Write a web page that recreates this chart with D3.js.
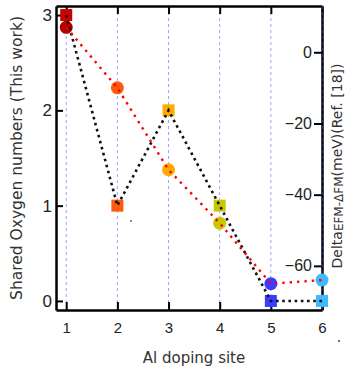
<!DOCTYPE html>
<html>
<head>
<meta charset="utf-8">
<script src="https://cdn.jsdelivr.net/npm/d3@7"></script>
<style>
  body { margin: 0; background: #fff; }
  svg { display: block; font-family: "DejaVu Sans", Verdana, sans-serif; }
  .axis path, .axis line { stroke: #000; }
</style>
</head>
<body>
<svg id="chart" width="351" height="369"></svg>
<script>
// data
const sites = [1, 2, 3, 4, 5, 6];
const sharedOxygen = [3, 1, 2, 1, 0, 0];
const deltaEnergy = [7, -10, -33, -48, -65, -64];
const pointColors = ["#c80000", "#ff5a0a", "#ffaa00", "#c8c800", "#3c3cff", "#3cbcff"];
const leftTicks = [0, 1, 2, 3];
const rightTicks = [0, -20, -40, -60];

const plotLeft = 56, plotRight = 322, plotTop = 6, plotBottom = 310;

const svg = d3.select("#chart");

const x = d3.scaleLinear().domain([0.8, 6]).range([plotLeft, plotRight]);
const yLeft = d3.scaleLinear().domain([-0.095, 3.095]).range([plotBottom, plotTop]);
const yRight = d3.scaleLinear().domain([-72.4, 13]).range([plotBottom, plotTop]);

// vertical dashed guides
svg.append("g")
  .selectAll("line")
  .data(sites)
  .enter()
  .append("line")
  .attr("x1", d => x(d)).attr("x2", d => x(d))
  .attr("y1", plotTop).attr("y2", plotBottom)
  .attr("stroke", "#a0a0ff")
  .attr("stroke-width", 1)
  .attr("stroke-dasharray", "3,3");

// frame axes
const bottomAxis = svg.append("g")
  .attr("class", "axis")
  .attr("transform", "translate(0," + plotBottom + ")")
  .call(d3.axisBottom(x).tickValues(sites).tickFormat(d3.format("d")).tickSize(-8).tickPadding(12).tickSizeOuter(0));

const topAxis = svg.append("g")
  .attr("class", "axis")
  .attr("transform", "translate(0," + plotTop + ")")
  .call(d3.axisTop(x).tickValues(sites).tickSize(-8).tickFormat("").tickSizeOuter(0));

const leftAxis = svg.append("g")
  .attr("class", "axis")
  .attr("transform", "translate(" + plotLeft + ",0)")
  .call(d3.axisLeft(yLeft).tickValues(leftTicks).tickFormat(d3.format("d")).tickSize(-7).tickPadding(4).tickSizeOuter(0));

const rightAxis = svg.append("g")
  .attr("class", "axis")
  .attr("transform", "translate(" + plotRight + ",0)")
  .call(d3.axisLeft(yRight).tickValues(rightTicks).tickFormat(d3.format("d")).tickSize(8).tickPadding(2).tickSizeOuter(0));

svg.selectAll(".axis path").attr("stroke-width", 2.5);
svg.selectAll(".axis line").attr("stroke-width", 2);
bottomAxis.selectAll("text").style("font-size", "15px").attr("fill", "#222");
leftAxis.selectAll("text").style("font-size", "17px").attr("fill", "#222");
rightAxis.selectAll("text").style("font-size", "16px").attr("fill", "#222");

// gridline at site 6 sits over the right axis
svg.append("line")
  .attr("x1", x(6)).attr("x2", x(6))
  .attr("y1", plotTop).attr("y2", plotBottom)
  .attr("stroke", "#3a3a90")
  .attr("stroke-width", 1.2)
  .attr("stroke-dasharray", "3,3");

// markers
svg.append("g")
  .selectAll("rect")
  .data(sites)
  .enter()
  .append("rect")
  .attr("x", d => x(d) - 6)
  .attr("y", (d, i) => yLeft(sharedOxygen[i]) - 6)
  .attr("width", 12).attr("height", 12)
  .attr("fill", (d, i) => pointColors[i]);

svg.append("g")
  .selectAll("circle")
  .data(sites)
  .enter()
  .append("circle")
  .attr("cx", d => x(d))
  .attr("cy", (d, i) => yRight(deltaEnergy[i]))
  .attr("r", 6.5)
  .attr("fill", (d, i) => i === 0 ? "#b40000" : pointColors[i]);

// dotted lines drawn over markers
const lineLeft = d3.line().x(d => x(d)).y((d, i) => yLeft(sharedOxygen[i]));
const lineRight = d3.line().x(d => x(d)).y((d, i) => yRight(deltaEnergy[i]));

svg.append("path")
  .attr("d", lineLeft(sites))
  .attr("fill", "none")
  .attr("stroke", "#111")
  .attr("stroke-width", 2.6)
  .attr("stroke-dasharray", "2.6,3.6");

svg.append("path")
  .attr("d", lineRight(sites))
  .attr("fill", "none")
  .attr("stroke", "#ff0000")
  .attr("stroke-width", 2.4)
  .attr("stroke-dasharray", "2.4,5");

// titles
svg.append("text")
  .attr("x", 194).attr("y", 363)
  .attr("text-anchor", "middle")
  .style("font-size", "15px")
  .attr("fill", "#333")
  .text("Al doping site");

svg.append("text")
  .attr("transform", "translate(22,158) rotate(-90)")
  .attr("text-anchor", "middle")
  .style("font-size", "15.5px")
  .attr("fill", "#333")
  .text("Shared Oxygen numbers (This work)");

const rTitle = svg.append("text")
  .attr("transform", "translate(342,166) rotate(-90)")
  .attr("text-anchor", "middle")
  .style("font-size", "14px")
  .attr("fill", "#333");
rTitle.append("tspan").text("Delta");
rTitle.append("tspan").style("font-size", "12px").attr("dy", 1).text("EFM-\u0394FM");
rTitle.append("tspan").attr("dy", -1).text("(meV)(Ref. [18])");

// stray specks present in the original
svg.append("circle").attr("cx", 131).attr("cy", 221).attr("r", 1).attr("fill", "#666");
svg.append("circle").attr("cx", 339).attr("cy", 341).attr("r", 1).attr("fill", "#444");
</script>
</body>
</html>
